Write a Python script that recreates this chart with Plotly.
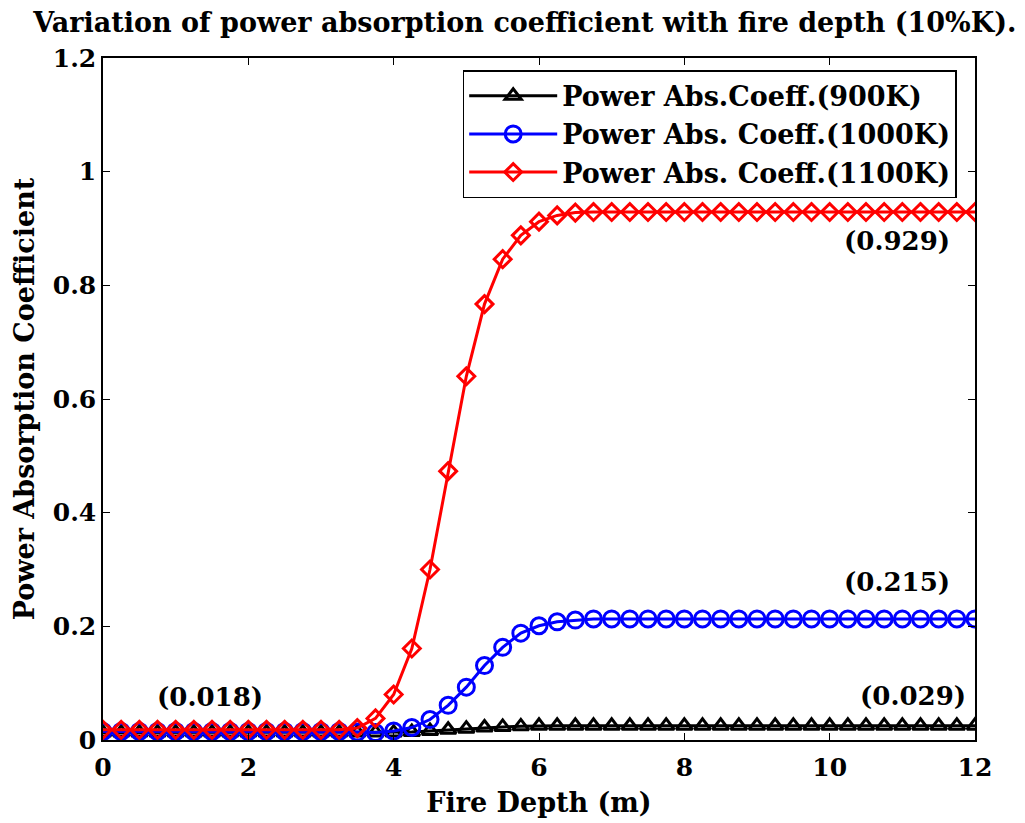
import plotly.graph_objects as go

depth = [0.0, 0.25, 0.5, 0.75, 1.0, 1.25, 1.5, 1.75, 2.0, 2.25, 2.5, 2.75, 3.0, 3.25,
         3.5, 3.75, 4.0, 4.25, 4.5, 4.75, 5.0, 5.25, 5.5, 5.75, 6.0, 6.25, 6.5, 6.75,
         7.0, 7.25, 7.5, 7.75, 8.0, 8.25, 8.5, 8.75, 9.0, 9.25, 9.5, 9.75, 10.0, 10.25,
         10.5, 10.75, 11.0, 11.25, 11.5, 11.75, 12.0]

coef_900 = [0.013, 0.013, 0.013, 0.013, 0.013, 0.013, 0.013, 0.013, 0.013, 0.013,
            0.013, 0.013, 0.013, 0.013, 0.013, 0.013, 0.013, 0.014, 0.016, 0.018,
            0.020, 0.022, 0.023, 0.024, 0.025, 0.025, 0.025, 0.025, 0.025, 0.025,
            0.025, 0.025, 0.025, 0.025, 0.025, 0.025, 0.025, 0.025, 0.025, 0.025,
            0.025, 0.025, 0.025, 0.025, 0.025, 0.025, 0.025, 0.025, 0.025]

coef_1000 = [0.015, 0.015, 0.015, 0.015, 0.015, 0.015, 0.015, 0.015, 0.015, 0.015,
             0.015, 0.015, 0.015, 0.015, 0.014, 0.013, 0.016, 0.022, 0.036, 0.061,
             0.093, 0.131, 0.163, 0.188, 0.201, 0.208, 0.211, 0.213, 0.213, 0.213,
             0.213, 0.213, 0.213, 0.213, 0.213, 0.213, 0.213, 0.213, 0.213, 0.213,
             0.213, 0.213, 0.213, 0.213, 0.213, 0.213, 0.213, 0.213, 0.213]

coef_1100 = [0.018, 0.018, 0.018, 0.018, 0.018, 0.018, 0.018, 0.018, 0.018, 0.018,
             0.018, 0.018, 0.018, 0.018, 0.021, 0.038, 0.080, 0.161, 0.300, 0.473,
             0.640, 0.767, 0.846, 0.888, 0.912, 0.923, 0.928, 0.929, 0.929, 0.929,
             0.929, 0.929, 0.929, 0.929, 0.929, 0.929, 0.929, 0.929, 0.929, 0.929,
             0.929, 0.929, 0.929, 0.929, 0.929, 0.929, 0.929, 0.929, 0.929]

series_names = ["Power Abs.Coeff.(900K)", "Power Abs. Coeff.(1000K)", "Power Abs. Coeff.(1100K)"]

note_text = ["(0.018)", "(0.215)", "(0.929)", "(0.029)"]
note_x = [1.47, 10.93, 10.93, 11.15]
note_y = [0.076, 0.278, 0.878, 0.077]

FONT = "DejaVu Serif, Liberation Serif, serif"

fig = go.Figure()
fig.add_trace(go.Scatter(x=depth, y=coef_900, name=series_names[0], mode="lines+markers",
                         line=dict(color="black", width=3),
                         marker=dict(symbol="triangle-up-open", size=14, color="black",
                                     line=dict(width=3, color="black"))))
fig.add_trace(go.Scatter(x=depth, y=coef_1000, name=series_names[1], mode="lines+markers",
                         line=dict(color="#0000ff", width=3),
                         marker=dict(symbol="circle-open", size=16, color="#0000ff",
                                     line=dict(width=3, color="#0000ff"))))
fig.add_trace(go.Scatter(x=depth, y=coef_1100, name=series_names[2], mode="lines+markers",
                         line=dict(color="#ff0000", width=3),
                         marker=dict(symbol="diamond-open", size=13, color="#ff0000",
                                     line=dict(width=3, color="#ff0000"))))

for t, xx, yy in zip(note_text, note_x, note_y):
    fig.add_annotation(x=xx, y=yy, text=t, showarrow=False,
                       font=dict(family=FONT, size=26, color="black", weight="bold"))

axis_common = dict(showline=True, linecolor="black", linewidth=1.5, mirror="ticks",
                   ticks="inside", ticklen=7, tickcolor="black", tickwidth=1,
                   showgrid=False, zeroline=False, automargin=False,
                   tickfont=dict(family=FONT, size=25, color="black", weight="bold"))

fig.update_xaxes(range=[0, 12], tickvals=[0, 2, 4, 6, 8, 10, 12],
                 ticktext=["0", "2", "4", "6", "8", "10", "12"],
                 ticklabelstandoff=4,
                 title=dict(text="Fire Depth (m)", standoff=12,
                            font=dict(family=FONT, size=27, color="black", weight="bold")),
                 **axis_common)
fig.update_yaxes(range=[0, 1.2], tickvals=[0, 0.2, 0.4, 0.6, 0.8, 1.0, 1.2],
                 ticktext=["0", "0.2", "0.4", "0.6", "0.8", "1", "1.2"],
                 title=dict(text="Power Absorption Coefficient", standoff=10,
                            font=dict(family=FONT, size=27, color="black", weight="bold")),
                 **axis_common)

fig.update_layout(
    width=1025, height=823,
    margin=dict(l=103, r=50, t=58, b=83),
    paper_bgcolor="white", plot_bgcolor="white",
    title=dict(text="Variation of power absorption coefficient with fire depth (10%K).",
               x=0.512, xanchor="center", xref="container",
               y=0.972, yanchor="middle", yref="container",
               font=dict(family=FONT, size=27, color="black", weight="bold")),
    legend=dict(x=0.979, xanchor="right", y=0.982, yanchor="top",
                bgcolor="white", bordercolor="black", borderwidth=1.5,
                font=dict(family=FONT, size=27, color="black", weight="bold"),
                itemwidth=88, tracegroupgap=0),
    showlegend=True,
)

fig.write_html("out.html")
